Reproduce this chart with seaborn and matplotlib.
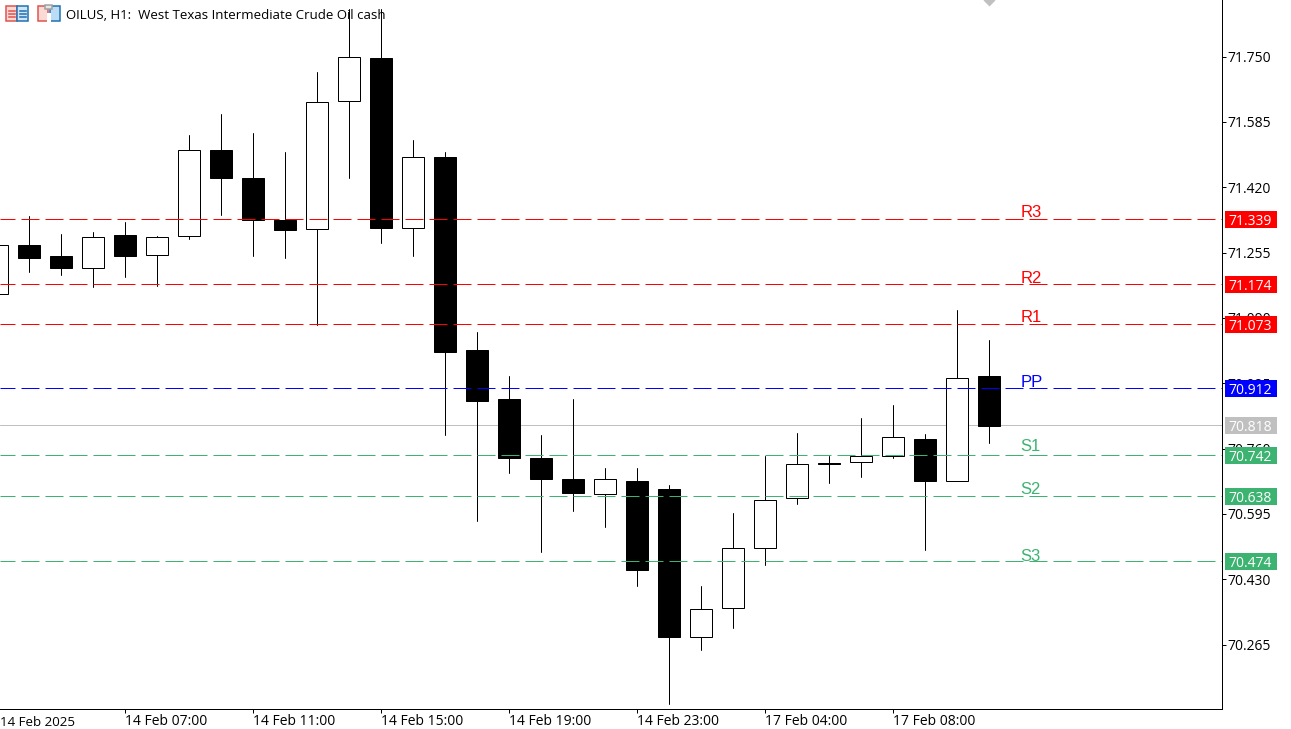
import pandas as pd
import matplotlib.pyplot as plt
from matplotlib.patches import Rectangle, FancyBboxPatch
import seaborn as sns

sns.set_theme(style="white")
plt.rcParams['font.family'] = ['Open Sans', 'DejaVu Sans']
plt.rcParams['axes.unicode_minus'] = False

# hourly candles
opens = [71.150, 71.275, 71.245, 71.215, 71.300, 71.248, 71.297, 71.515, 71.442, 71.338, 71.314, 71.638,
         71.745, 71.316, 71.495, 71.010, 70.884, 70.737, 70.684, 70.646, 70.677, 70.659, 70.285, 70.357,
         70.510, 70.634, 70.724, 70.725, 70.742, 70.783, 70.678, 70.944]
closes = [71.275, 71.240, 71.217, 71.295, 71.247, 71.295, 71.515, 71.442, 71.337, 71.311, 71.636, 71.749,
          71.318, 71.497, 71.003, 70.881, 70.737, 70.684, 70.649, 70.684, 70.454, 70.283, 70.356, 70.510,
          70.631, 70.720, 70.721, 70.740, 70.788, 70.679, 70.939, 70.818]
highs = [71.290, 71.346, 71.303, 71.308, 71.331, 71.298, 71.553, 71.606, 71.556, 71.510, 71.712, 71.869,
         71.869, 71.540, 71.510, 71.055, 70.944, 70.793, 70.884, 70.710, 70.712, 70.667, 70.412, 70.596,
         70.740, 70.800, 70.740, 70.836, 70.869, 70.798, 71.109, 71.035]
lows = [71.130, 71.205, 71.199, 71.167, 71.192, 71.170, 71.290, 71.351, 71.247, 71.242, 71.071, 71.442,
        71.278, 71.247, 70.793, 70.578, 70.699, 70.500, 70.603, 70.561, 70.414, 70.116, 70.252, 70.306,
        70.465, 70.621, 70.672, 70.687, 70.737, 70.505, 70.677, 70.773]

price_ticks = [71.750, 71.585, 71.420, 71.255, 71.090, 70.925, 70.760, 70.595, 70.430, 70.265]
time_ticks = [0, 4, 8, 12, 16, 20, 24, 28]
time_labels = ['14 Feb 2025', '14 Feb 07:00', '14 Feb 11:00', '14 Feb 15:00',
               '14 Feb 19:00', '14 Feb 23:00', '17 Feb 04:00', '17 Feb 08:00']

level_names = ['R3', 'R2', 'R1', 'PP', 'S1', 'S2', 'S3']
level_prices = [71.339, 71.174, 71.073, 70.912, 70.742, 70.638, 70.474]
level_text_prices = [71.344, 71.179, 71.079, 70.915, 70.755, 70.646, 70.477]
level_colors = ['#FF0000', '#FF0000', '#FF0000', '#0000FF', '#3CB371', '#3CB371', '#3CB371']
last_price = 70.818
title = 'OILUS, H1:  West Texas Intermediate Crude Oil cash'

W, H = 1291, 729
AX_W, AX_H = 1222, 709
fig = plt.figure(figsize=(W / 100, H / 100), dpi=100, facecolor='white')
ax = fig.add_axes([0, (H - AX_H) / H, AX_W / W, AX_H / H])
px = 0.72  # one pixel in points
line_nudge = 0.5 / 396  # half a pixel, so the level lines snap to the same rows

# wicks
idx = list(range(len(opens)))
wicks = pd.DataFrame({
    'candle': idx + idx,
    'price': highs + lows,
})
sns.lineplot(data=wicks, x='candle', y='price', units='candle', estimator=None, sort=False,
             color='black', linewidth=px, legend=False, zorder=3, ax=ax)

# bodies
bottoms = [min(o, c) for o, c in zip(opens, closes)]
heights = [abs(o - c) for o, c in zip(opens, closes)]
fills = ['white' if c >= o else 'black' for o, c in zip(opens, closes)]
ax.bar(idx, heights, bottom=bottoms, width=22 / 32, color=fills, edgecolor='black', linewidth=px, zorder=4)

ax.set_xlim(3 / 32, (AX_W + 3) / 32)
ax.set_ylim(71.8927 - AX_H / 396, 71.8927)

# bid line sits behind the candles, pivots on top
ax.axhline(last_price + line_nudge, color='#C0C0C0', linewidth=px, zorder=2)
for name, price, text_price, col in zip(level_names, level_prices, level_text_prices, level_colors):
    ax.axhline(price + line_nudge, color=col, linewidth=px, linestyle=(3, (18, 6)), zorder=5)
    ax.text(31.99, text_price, name, color=col, fontsize=12, family='Liberation Sans',
            ha='left', va='baseline', zorder=6)

# price badges on the axis
y_tr = ax.get_yaxis_transform()
badge_h = 17 / 396
for price, col in zip(level_prices + [last_price], level_colors + ['#C0C0C0']):
    ax.add_patch(Rectangle((1225 / AX_W, price - badge_h / 2), 52 / AX_W, badge_h, transform=y_tr,
                           facecolor=col, edgecolor='none', clip_on=False, zorder=7))
    ax.text(1228 / AX_W, price, f'{price:.3f}', transform=y_tr, color='white', fontsize=10,
            ha='left', va='center_baseline', clip_on=False, zorder=8)

# shift marker at the top edge
ax.scatter([31], [71.8927], marker='D', s=37, color='#C0C0C0', linewidth=0, zorder=5)

ax.yaxis.tick_right()
ax.set_yticks(price_ticks)
ax.set_yticklabels([f'{p:.3f}' for p in price_ticks])
ax.set_xticks(time_ticks[1:])
ax.set_xticklabels(time_labels[1:], ha='left')
ax.tick_params(axis='y', length=4 * px, width=px, color='black', pad=1 * px, labelsize=10, labelcolor='black')
ax.tick_params(axis='x', length=4 * px, width=px, color='black', pad=1 * px, labelsize=10, labelcolor='black',
               bottom=True)
ax.set_xlabel('')
ax.set_ylabel('')
ax.text(0, -6.5 / AX_H, time_labels[0], transform=ax.transAxes, color='black', fontsize=9.6,
        ha='left', va='top', clip_on=False)

for side in ['top', 'left']:
    ax.spines[side].set_visible(False)
for side in ['right', 'bottom']:
    ax.spines[side].set_color('black')
    ax.spines[side].set_linewidth(px)

ax.text(66 / AX_W, 1 - 14 / AX_H, title, transform=ax.transAxes, color='black', fontsize=9.55,
        ha='left', va='center_baseline', zorder=9)


# the two small toolbar icons, in figure pixels
def box(x, y, w, h, face, edge, lw=1.5):
    fig.add_artist(FancyBboxPatch((x / W, 1 - (y + h) / H), w / W, h / H, boxstyle='square,pad=0',
                                  transform=fig.transFigure, facecolor=face, edgecolor=edge, linewidth=lw * px))


red, blue = '#E0504A', '#1C6FB0'
box(6, 6, 11, 15, '#FBDAD6', red)
box(17, 6, 11, 15, '#CFE4F5', blue)
for y in (10, 13, 16):
    box(8, y, 7, 1, red, red, 0.5)
    box(19, y, 7, 1, blue, blue, 0.5)
box(38, 6, 10, 15, '#FBDAD6', red)
box(50, 6, 10, 15, '#BBDCF5', blue)
box(47, 13, 4, 9, 'white', 'white', 0)
box(45, 5, 7, 4, '#E6E6E6', '#A0A0A0')

fig.savefig('out.png', dpi=100)
